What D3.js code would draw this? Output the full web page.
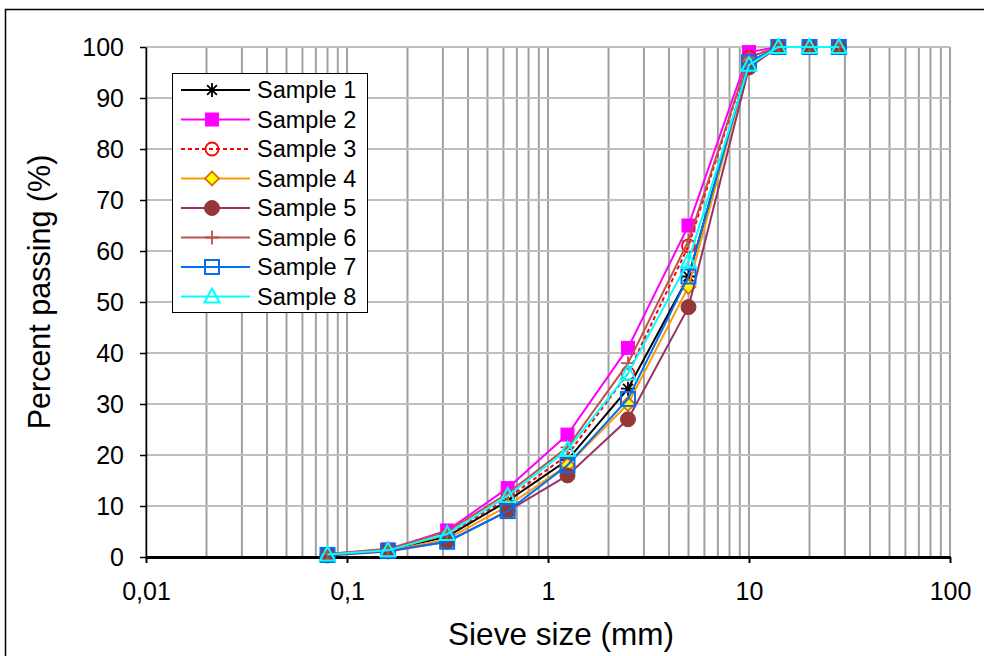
<!DOCTYPE html>
<html><head><meta charset="utf-8">
<script src="https://cdn.jsdelivr.net/npm/d3@7"></script>
<style>body{margin:0;background:#fff}svg{display:block}text{font-family:"Liberation Sans",Arial,sans-serif}</style>
</head><body><svg id="c" width="984" height="656"></svg>
<script>
const sieveSizes = [0.08,0.16,0.315,0.63,1.25,2.5,5,10,14,20,28];
const sample1 = [0.5,1.3,4,11,19,33,55,97,100,100,100];
const sample2 = [0.6,1.5,5.2,13.5,24,41,65,99,100,100,100];
const sample3 = [0.5,1.4,4.3,11.5,20,36,61,98,100,100,100];
const sample4 = [0.4,1.2,3.5,10,18,30,53,97,100,100,100];
const sample5 = [0.3,1.1,3,9,16,27,49,96,100,100,100];
const sample6 = [0.6,1.6,5,12.5,21.5,38,62,98,100,100,100];
const sample7 = [0.4,1.2,3,9,18,31,55,97,100,100,100];
const sample8 = [0.5,1.3,4.5,12,21,36,58,96.5,100,100,100];
const seriesNames = ["Sample 1","Sample 2","Sample 3","Sample 4","Sample 5","Sample 6","Sample 7","Sample 8"];
const xTickValues = [0.01,0.1,1,10,100];
const xTickLabels = ["0,01","0,1","1","10","100"];
const yTickValues = [0,10,20,30,40,50,60,70,80,90,100];

const seriesData = [sample1,sample2,sample3,sample4,sample5,sample6,sample7,sample8];
const styles = [
  {line:"#000000", marker:"star", stroke:"#000000", fill:"none"},
  {line:"#ff00ff", marker:"square", stroke:"#ff00ff", fill:"#ff00ff"},
  {line:"#ff0000", dash:"4,3", marker:"circle", stroke:"#ff0000", fill:"#ffffff"},
  {line:"#ff9900", marker:"diamond", stroke:"#e46c0a", fill:"#ffff00"},
  {line:"#993366", marker:"circleFilled", stroke:"#953735", fill:"#953735"},
  {line:"#c0504d", marker:"plus", stroke:"#c0504d", fill:"none"},
  {line:"#0070f0", marker:"squareOpen", stroke:"#0070f0", fill:"none"},
  {line:"#00ffff", marker:"triangle", stroke:"#00ffff", fill:"none"}
];

const svg = d3.select("#c");
svg.append("rect").attr("x",5.5).attr("y",9.5).attr("width",990).attr("height",660)
  .attr("fill","none").attr("stroke","#000").attr("stroke-width",1.5);

const L=146, R=950, T=47, B=557;
const x = d3.scaleLog().domain([0.01,100]).range([L,R]);
const y = d3.scaleLinear().domain([0,100]).range([B,T]);

const g = svg.append("g");
const minor = [];
for (let d=0.01; d<100; d*=10) for (let k=1;k<=10;k++) minor.push(+(d*k).toPrecision(3));
g.selectAll("line.vx").data(Array.from(new Set(minor))).join("line")
  .attr("x1",d=>x(d)).attr("x2",d=>x(d)).attr("y1",T).attr("y2",B)
  .attr("stroke","#a0a0a0").attr("stroke-width",2);
g.selectAll("line.hy").data(yTickValues.slice(1)).join("line")
  .attr("x1",L).attr("x2",R).attr("y1",d=>y(d)).attr("y2",d=>y(d))
  .attr("stroke","#bfbfbf").attr("stroke-width",2);

const xAxis = d3.axisBottom(x).tickValues(xTickValues).tickFormat((d,i)=>xTickLabels[i]).tickSizeInner(6).tickSizeOuter(0).tickPadding(19);
const xg = svg.append("g").attr("transform",`translate(0,${B})`).call(xAxis);
xg.select(".domain").attr("stroke","#000").attr("stroke-width",3);
xg.selectAll(".tick line").attr("stroke","#000").attr("stroke-width",2);
xg.selectAll("text").attr("font-size",25).attr("fill","#000").attr("font-family","Liberation Sans, Arial, sans-serif");

const yAxis = d3.axisLeft(y).tickValues(yTickValues).tickSizeInner(6).tickSizeOuter(0).tickPadding(16);
const yg = svg.append("g").attr("transform",`translate(${L},0)`).call(yAxis);
yg.select(".domain").attr("stroke","#000").attr("stroke-width",1.5);
yg.selectAll(".tick line").attr("stroke","#000").attr("stroke-width",1.5);
yg.selectAll("text").attr("font-size",25).attr("fill","#000").attr("font-family","Liberation Sans, Arial, sans-serif");

svg.append("text").attr("x",561).attr("y",645).attr("text-anchor","middle")
  .attr("font-size",31.5).text("Sieve size (mm)");
svg.append("text").attr("transform","translate(50,292) rotate(-90)").attr("text-anchor","middle")
  .attr("font-size",30.5).text("Percent passing (%)");

function drawMarker(sel, type, st){
  const s=7;
  if(type==="star"){
    sel.append("path").attr("d",`M${-s},0H${s}M0,${-s}V${s}M${-s*0.7},${-s*0.7}L${s*0.7},${s*0.7}M${-s*0.7},${s*0.7}L${s*0.7},${-s*0.7}`)
      .attr("stroke",st.stroke).attr("stroke-width",1.8).attr("fill","none");
  } else if(type==="plus"){
    sel.append("path").attr("d",`M${-s},0H${s}M0,${-s}V${s}`).attr("stroke",st.stroke).attr("stroke-width",1.8);
  } else if(type==="square"){
    sel.append("rect").attr("x",-6.5).attr("y",-6.5).attr("width",13).attr("height",13).attr("fill",st.fill).attr("stroke",st.stroke);
  } else if(type==="squareOpen"){
    sel.append("rect").attr("x",-7).attr("y",-7).attr("width",14).attr("height",14).attr("fill","none").attr("stroke",st.stroke).attr("stroke-width",2);
  } else if(type==="circle"){
    sel.append("circle").attr("r",6.5).attr("fill","none").attr("stroke",st.stroke).attr("stroke-width",1.8);
  } else if(type==="circleFilled"){
    sel.append("circle").attr("r",7.5).attr("fill",st.fill).attr("stroke",st.stroke);
  } else if(type==="diamond"){
    sel.append("path").attr("d","M0,-7L7,0L0,7L-7,0Z").attr("fill",st.fill).attr("stroke",st.stroke).attr("stroke-width",1.8);
  } else if(type==="triangle"){
    sel.append("path").attr("d","M0,-8L7.5,6L-7.5,6Z").attr("fill","none").attr("stroke",st.stroke).attr("stroke-width",2);
  }
}

const line = d3.line().x(d=>x(d[0])).y(d=>y(d[1]));
seriesData.forEach((vals,i)=>{
  const st = styles[i];
  const pts = sieveSizes.map((s,j)=>[s,vals[j]]);
  svg.append("path").datum(pts).attr("d",line).attr("fill","none")
    .attr("stroke",st.line).attr("stroke-width",2).attr("stroke-dasharray",st.dash||null);
  pts.forEach(p=>{
    const m = svg.append("g").attr("transform",`translate(${x(p[0])},${y(p[1])})`);
    drawMarker(m, st.marker, st);
  });
});

const lg = svg.append("g");
lg.append("rect").attr("x",172.5).attr("y",73.5).attr("width",195).attr("height",239)
  .attr("fill","#fff").attr("stroke","#000").attr("stroke-width",1);
seriesNames.forEach((n,i)=>{
  const yy = 90 + i*29.5;
  const st = styles[i];
  lg.append("line").attr("x1",181).attr("x2",250).attr("y1",yy).attr("y2",yy)
    .attr("stroke",st.line).attr("stroke-width",2).attr("stroke-dasharray",st.dash||null);
  drawMarker(lg.append("g").attr("transform",`translate(212,${yy})`), st.marker, st);
  lg.append("text").attr("x",257).attr("y",yy+8).attr("font-size",23.5).text(n);
});
</script></body></html>
